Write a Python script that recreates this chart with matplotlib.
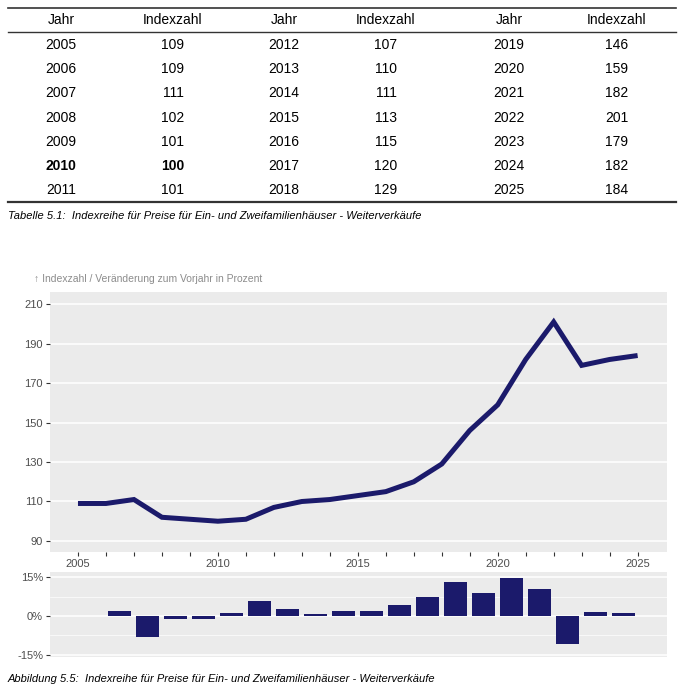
import matplotlib.pyplot as plt
from matplotlib.lines import Line2D

plt.rcParams['font.family'] = ['Liberation Sans', 'DejaVu Sans']

years = [2005, 2006, 2007, 2008, 2009, 2010, 2011, 2012, 2013, 2014, 2015,
         2016, 2017, 2018, 2019, 2020, 2021, 2022, 2023, 2024, 2025]
index_values = [109, 109, 111, 102, 101, 100, 101, 107, 110, 111, 113,
                115, 120, 129, 146, 159, 182, 201, 179, 182, 184]
# change to previous year in percent (2006..2025)
change_years = years[1:]
change_pct = [0.0, 1.8, -8.1, -1.0, -1.0, 1.0, 5.9, 2.8, 0.9, 1.8,
              1.8, 4.3, 7.5, 13.2, 8.9, 14.5, 10.4, -10.9, 1.7, 1.1]

y_ticks = [90, 110, 130, 150, 170, 190, 210]
pct_ticks = [-15, 0, 15]
pct_labels = ['-15%', '0%', '15%']
pct_minor = [-7.5, 7.5]

navy = '#1b1a6b'
panel_bg = '#ebebeb'
tick_col = '#4d4d4d'

W, H = 680, 693
fig = plt.figure(figsize=(W / 100, H / 100), dpi=100)

# overlay axes in pixel coordinates for table and captions
ov = fig.add_axes([0, 0, 1, 1])
ov.set_xlim(0, W)
ov.set_ylim(H, 0)
ov.axis('off')

# table lines
ov.add_line(Line2D([8, 676], [8, 8], color='#333333', lw=1.2))
ov.add_line(Line2D([8, 676], [32, 32], color='#333333', lw=1.0))
ov.add_line(Line2D([8, 676], [202, 202], color='#333333', lw=1.6))

col_x = [(61, 173), (284, 386), (509, 617)]
for cx_year, cx_idx in col_x:
    ov.text(cx_year, 20, 'Jahr', ha='center', va='center', fontsize=10)
    ov.text(cx_idx, 20, 'Indexzahl', ha='center', va='center', fontsize=10)

row_y0, row_dy = 45, 24.2
for i, (yr, val) in enumerate(zip(years, index_values)):
    col = i // 7
    row = i % 7
    cx_year, cx_idx = col_x[col]
    yy = row_y0 + row * row_dy
    weight = 'bold' if yr == 2010 else 'normal'
    ov.text(cx_year, yy, str(yr), ha='center', va='center', fontsize=10,
            fontweight=weight)
    ov.text(cx_idx, yy, str(val), ha='center', va='center', fontsize=10,
            fontweight=weight)

ov.text(8, 216, 'Tabelle 5.1:  Indexreihe für Preise für Ein- und Zweifamilienhäuser - Weiterverkäufe',
        ha='left', va='center', fontsize=8, style='italic')
ov.text(8, 679, 'Abbildung 5.5:  Indexreihe für Preise für Ein- und Zweifamilienhäuser - Weiterverkäufe',
        ha='left', va='center', fontsize=8, style='italic')
ov.text(34, 279, '↑ Indexzahl / Veränderung zum Vorjahr in Prozent',
        ha='left', va='center', fontsize=7.5, color='#8c8c8c')


def px_axes(x0, y0, x1, y1):
    return fig.add_axes([x0 / W, 1 - y1 / H, (x1 - x0) / W, (y1 - y0) / H])


# top panel: index line
ax = px_axes(50, 292, 667, 552)
ax.set_facecolor(panel_bg)
for s in ax.spines.values():
    s.set_visible(False)
ax.plot(years, index_values, color=navy, lw=3.6, solid_joinstyle='miter',
        solid_capstyle='butt', zorder=3)
ax.set_xlim(2004.0, 2026.05)
ax.set_ylim(84.4, 216.2)
ax.set_yticks(y_ticks)
ax.set_xticks(years)
ax.set_xticklabels([str(y) if y % 5 == 0 else '' for y in years])
ax.grid(axis='y', color='white', lw=1.1)
ax.grid(axis='x', visible=False)
ax.set_axisbelow(True)
ax.tick_params(axis='both', colors='#333333', labelcolor=tick_col,
               labelsize=8, length=3, width=0.8, pad=2)

# bottom panel: yearly change bars, drawn between the two years compared
bx = px_axes(50, 572, 667, 657)
bx.set_facecolor(panel_bg)
for s in bx.spines.values():
    s.set_visible(False)
bx.bar([y - 0.5 for y in change_years], change_pct, width=0.82,
       color=navy, zorder=3)
bx.set_xlim(2004.0, 2026.05)
bx.set_ylim(-15.8, 17.0)
bx.set_yticks(pct_ticks)
bx.set_yticklabels(pct_labels)
bx.set_yticks(pct_minor, minor=True)
bx.set_xticks([])
bx.grid(axis='y', which='major', color='white', lw=1.1)
bx.grid(axis='y', which='minor', color='white', lw=0.5)
bx.set_axisbelow(True)
bx.tick_params(axis='y', colors='#333333', labelcolor=tick_col,
               labelsize=8, length=3, width=0.8, pad=2)
bx.tick_params(axis='y', which='minor', length=0)

fig.savefig('out.png', dpi=100)
